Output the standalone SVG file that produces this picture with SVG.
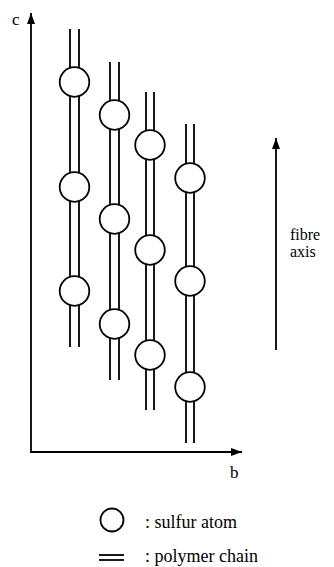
<svg xmlns="http://www.w3.org/2000/svg" width="334" height="567" viewBox="0 0 334 567">
<defs>
<style>
.ln{stroke:#000;stroke-width:1.8;fill:none}
.at{stroke:#000;stroke-width:1.8;fill:#fff}
text{fill:#000}
</style>
<marker id="ah" markerUnits="userSpaceOnUse" markerWidth="12" markerHeight="10" refX="11" refY="4" orient="auto">
<path d="M0,0 L11,4 L0,8 Z" fill="#000"/>
</marker>
</defs>
<rect width="334" height="567" fill="#fff"/>
<g id="connectors">
<line class="ln" x1="31" y1="452" x2="31" y2="13" marker-end="url(#ah)"/>
<line class="ln" x1="30" y1="452" x2="242" y2="452" marker-end="url(#ah)"/>
<line class="ln" x1="276" y1="350" x2="276" y2="138" marker-end="url(#ah)"/>
</g>
<g id="chain1">
<line class="ln" x1="70" y1="29" x2="70" y2="347"/>
<line class="ln" x1="79" y1="29" x2="79" y2="347"/>
<circle class="at" cx="74.5" cy="82" r="14.8"/>
<circle class="at" cx="74.5" cy="187" r="14.8"/>
<circle class="at" cx="74.5" cy="291" r="14.8"/>
</g>
<g id="chain2">
<line class="ln" x1="110" y1="62" x2="110" y2="380"/>
<line class="ln" x1="119" y1="62" x2="119" y2="380"/>
<circle class="at" cx="114.5" cy="115" r="14.8"/>
<circle class="at" cx="114.5" cy="219" r="14.8"/>
<circle class="at" cx="114.5" cy="324" r="14.8"/>
</g>
<g id="chain3">
<line class="ln" x1="146" y1="92" x2="146" y2="410"/>
<line class="ln" x1="154" y1="92" x2="154" y2="410"/>
<circle class="at" cx="150" cy="145" r="14.8"/>
<circle class="at" cx="150" cy="250" r="14.8"/>
<circle class="at" cx="150" cy="355" r="14.8"/>
</g>
<g id="chain4">
<line class="ln" x1="186" y1="124" x2="186" y2="443"/>
<line class="ln" x1="194" y1="124" x2="194" y2="443"/>
<circle class="at" cx="190" cy="178" r="14.8"/>
<circle class="at" cx="190" cy="281" r="14.8"/>
<circle class="at" cx="190" cy="387" r="14.8"/>
</g>
<g id="labels" font-family="'Liberation Serif', 'Times New Roman', serif" font-size="17">
<text x="12" y="25">c</text>
<text x="230" y="478">b</text>
<text x="290" y="240" font-size="16">fibre</text>
<text x="290" y="257" font-size="16">axis</text>
</g>
<g id="legend" font-family="'Liberation Serif', 'Times New Roman', serif" font-size="18">
<circle class="at" cx="112" cy="520" r="11.5"/>
<text x="145" y="528">: sulfur atom</text>
<line class="ln" x1="99" y1="555" x2="124" y2="555"/>
<line class="ln" x1="99" y1="560" x2="124" y2="560"/>
<text x="145" y="562">: polymer chain</text>
</g>
</svg>
